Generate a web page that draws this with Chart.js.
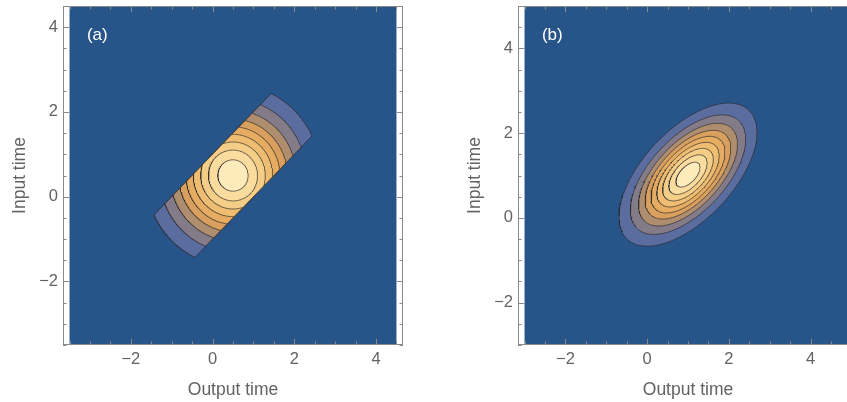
<!DOCTYPE html>
<html><head><meta charset="utf-8">
<script src="https://cdn.jsdelivr.net/npm/chart.js@4.4.0/dist/chart.umd.min.js"></script>
<style>
html,body{margin:0;padding:0;background:#fff;overflow:hidden;width:847px;height:402px}
#wa{position:absolute;left:0;top:0;width:423px;height:402px}
#wb{position:absolute;left:423px;top:0;width:455px;height:402px}
</style></head><body>
<div id="wa"><canvas id="ca"></canvas></div>
<div id="wb"><canvas id="cb"></canvas></div>
<script>
// ---- data ----
const panelLabels = ['(a)', '(b)'];
const xTitle = 'Output time';
const yTitle = 'Input time';
const tickValues = [-2, 0, 2, 4];
const domainA = [-3.5, 4.5];
const domainB = [-3, 5];
const centerA = [0.5, 0.5];
const bandHalfWidthA = 1.0;           // region |y - x| < 1
const radiiA = [2.15, 1.80, 1.54, 1.33, 1.15, 0.97, 0.79, 0.60, 0.37];
const centerB = [1.0, 1.02];
const majorAxesB = [2.13, 1.78, 1.53, 1.32, 1.14, 0.96, 0.78, 0.59, 0.37];
const minorAxesB = [1.08, 0.90, 0.77, 0.67, 0.58, 0.49, 0.40, 0.30, 0.19];
const levelColors = ['#5B6C9F','#847B88','#AF8E70','#D89F5E','#E6AC62','#EEBD72','#F4CD87','#F9DC9E','#FDEBBB'];
const bgColor = '#27558A';

// ---- geometry helpers ----
const S = Math.SQRT1_2;
function toXY(c, u, v){ return {x: c[0] + (u - v) * S, y: c[1] + (u + v) * S}; }
function bandDisc(c, r, halfW){
  const w = halfW * S, pts = [], N = 90;
  if (r <= w){
    for (let i = 0; i <= N * 2; i++){ const t = Math.PI * i / N; pts.push(toXY(c, r*Math.cos(t), r*Math.sin(t))); }
    return pts;
  }
  const p0 = Math.asin(w / r);
  for (let i = 0; i <= N; i++){ const t = -p0 + 2*p0*i/N; pts.push(toXY(c, r*Math.cos(t), r*Math.sin(t))); }
  for (let i = 0; i <= N; i++){ const t = Math.PI - p0 + 2*p0*i/N; pts.push(toXY(c, r*Math.cos(t), r*Math.sin(t))); }
  pts.push(pts[0]);
  return pts;
}
function ellipse(c, A, B){
  const pts = [], N = 180;
  for (let i = 0; i <= N; i++){ const t = 2*Math.PI*i/N; pts.push(toXY(c, A*Math.cos(t), B*Math.sin(t))); }
  return pts;
}
function rect(d){ return [{x:d[0],y:d[0]},{x:d[1],y:d[0]},{x:d[1],y:d[1]},{x:d[0],y:d[1]},{x:d[0],y:d[0]}]; }

function buildDatasets(domain, shapes){
  const ds = [{data: rect(domain), polyFill: bgColor, borderWidth: 0, order: 100}];
  shapes.forEach((pts, k) => {
    ds.push({data: pts, polyFill: levelColors[k], borderColor: 'rgba(40,40,40,0.65)', borderWidth: 1, order: 50 - k});
  });
  ds.forEach(d => { d.showLine = true; d.pointRadius = 0; d.fill = false; d.tension = 0; });
  return ds;
}

// ---- plugins ----
const polyFill = {
  id: 'polyFill',
  beforeDatasetDraw(chart, args){
    const ds = chart.data.datasets[args.index];
    if (!ds.polyFill) return;
    const pts = args.meta.data, ctx = chart.ctx, a = chart.chartArea;
    ctx.save();
    ctx.beginPath(); ctx.rect(a.left, a.top, a.right - a.left, a.bottom - a.top); ctx.clip();
    ctx.beginPath();
    pts.forEach((p, i) => i ? ctx.lineTo(p.x, p.y) : ctx.moveTo(p.x, p.y));
    ctx.closePath();
    ctx.fillStyle = ds.polyFill; ctx.fill();
    ctx.restore();
  }
};
const frame = {
  id: 'frame',
  afterDraw(chart, args, opts){
    const ctx = chart.ctx, a = chart.chartArea, xs = chart.scales.x, ys = chart.scales.y;
    ctx.save();
    ctx.strokeStyle = '#8a8a8a'; ctx.lineWidth = 1;
    ctx.strokeRect(Math.round(a.left) + 0.5, Math.round(a.top) + 0.5, Math.round(a.right - a.left) - 1, Math.round(a.bottom - a.top) - 1);
    const d = opts.domain;
    ctx.beginPath();
    for (let v = d[0]; v <= d[1] + 1e-9; v += 0.5){
      const major = Math.abs(v/2 - Math.round(v/2)) < 1e-9;
      const L = major ? 6 : 3.5;
      const px = Math.round(xs.getPixelForValue(v)) + 0.5;
      ctx.moveTo(px, a.bottom); ctx.lineTo(px, a.bottom - L);
      ctx.moveTo(px, a.top); ctx.lineTo(px, a.top + L);
      const py = Math.round(ys.getPixelForValue(v)) + 0.5;
      ctx.moveTo(a.left, py); ctx.lineTo(a.left + L, py);
      ctx.moveTo(a.right, py); ctx.lineTo(a.right - L, py);
    }
    ctx.stroke();
    ctx.fillStyle = '#ffffff';
    ctx.font = '17px "Liberation Sans", Arial, sans-serif';
    ctx.textAlign = 'center'; ctx.textBaseline = 'middle';
    ctx.fillText(opts.label, xs.getPixelForValue(d[0] + 0.68), ys.getPixelForValue(d[1] - 0.69));
    ctx.restore();
  }
};

const fmt = v => String(v).replace('-', '\u2212');
const FONT = '"Liberation Sans", Arial, sans-serif';
const TXT = '#636363';

function makeChart(id, domain, xRange, shapes, label, yWidth, padRight, yTitlePad){
  return new Chart(document.getElementById(id), {
    type: 'scatter',
    data: {datasets: buildDatasets(domain, shapes)},
    plugins: [polyFill, frame],
    options: {
      responsive: true, maintainAspectRatio: false, animation: false,
      layout: {padding: {top: 6, right: padRight, left: 0, bottom: 0}},
      plugins: {legend: {display: false}, tooltip: {enabled: false}, frame: {domain, label}},
      scales: {
        x: {
          type: 'linear', min: xRange[0], max: xRange[1],
          grid: {display: false, drawTicks: false}, border: {display: false},
          afterBuildTicks(s){ s.ticks = tickValues.map(v => ({value: v})); },
          ticks: {autoSkip: false, maxRotation: 0, color: TXT, padding: 5, font: {family: FONT, size: 16.5}, callback: v => fmt(v)},
          title: {display: true, text: xTitle, color: TXT, font: {family: FONT, size: 17.5}, padding: {top: 4, bottom: 1.5}},
          afterFit(s){ s.height = 57; s.paddingLeft = 0; s.paddingRight = 0; }
        },
        y: {
          type: 'linear', min: domain[0], max: domain[1],
          grid: {display: false, drawTicks: false}, border: {display: false},
          afterBuildTicks(s){ s.ticks = tickValues.map(v => ({value: v})); },
          ticks: {autoSkip: false, color: TXT, padding: 5, font: {family: FONT, size: 16.5}, callback: v => fmt(v)},
          title: {display: true, text: yTitle, color: TXT, font: {family: FONT, size: 17.5}, padding: {top: yTitlePad, bottom: 4}},
          afterFit(s){ s.width = yWidth; s.paddingTop = 0; s.paddingBottom = 0; }
        }
      }
    }
  });
}

const shapesA = radiiA.map(r => bandDisc(centerA, r, bandHalfWidthA));
const shapesB = majorAxesB.map((A, k) => ellipse(centerB, A, minorAxesB[k]));
makeChart('ca', domainA, [-3.66, 4.66], shapesA, panelLabels[0], 63, 20, 10);
makeChart('cb', domainB, [-3.16, 5.16], shapesB, panelLabels[1], 95, 20, 42);
</script>
</body></html>
